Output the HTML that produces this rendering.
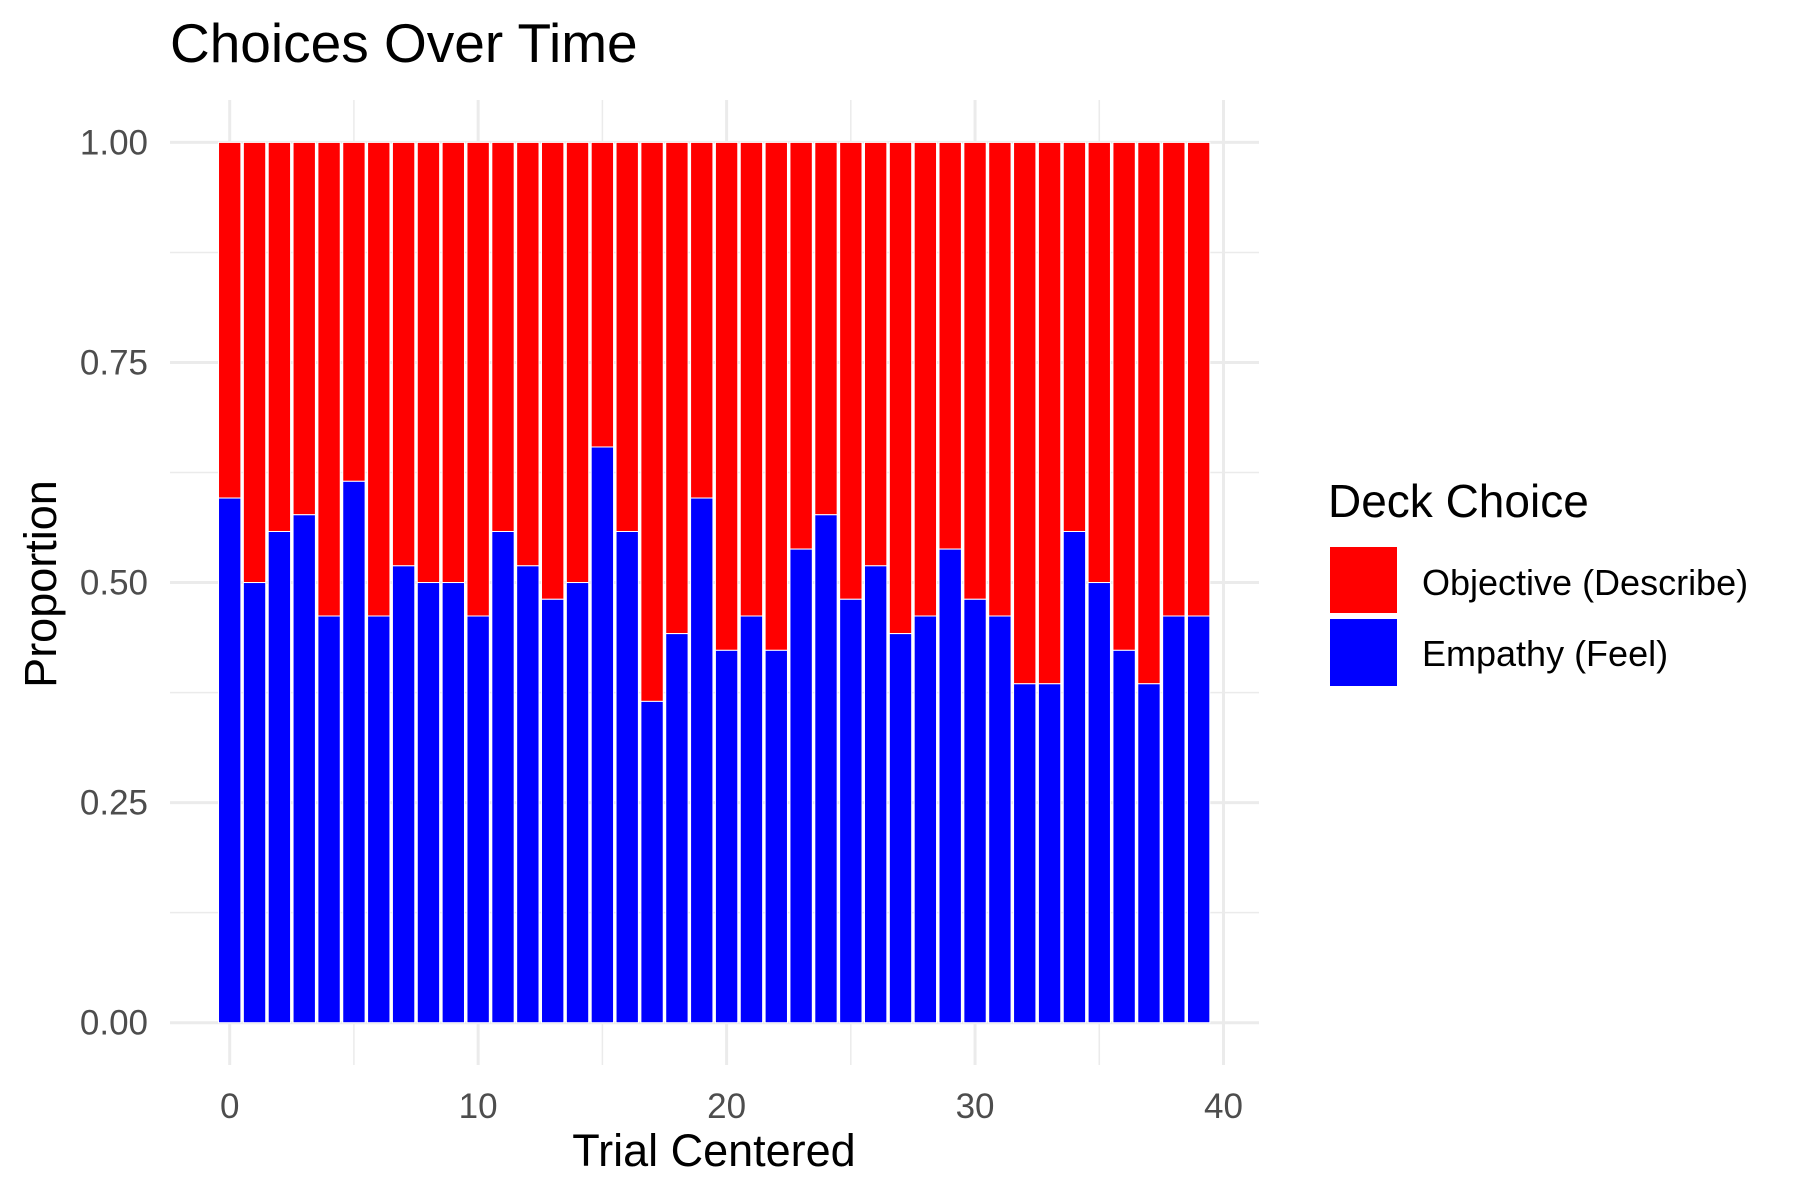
<!DOCTYPE html>
<html><head><meta charset="utf-8"><style>
html,body{margin:0;padding:0;background:#fff;}
svg{display:block;font-family:"Liberation Sans",sans-serif;}
</style></head><body>
<svg id="chart" width="1800" height="1200" viewBox="0 0 1800 1200">
<rect width="1800" height="1200" fill="#fff"/>
<g id="grid"></g>
<g id="bars"></g>
<g id="axes"></g>
<text x="170" y="62" font-size="55" fill="#000">Choices Over Time</text>
<text x="714" y="1166" font-size="45" text-anchor="middle" fill="#000">Trial Centered</text>
<text transform="translate(56,584) rotate(-90)" font-size="45" text-anchor="middle" fill="#000">Proportion</text>
<g>
<text x="1328" y="517" font-size="46" fill="#000">Deck Choice</text>
<rect x="1330" y="547" width="67" height="66" fill="#ff0000"/>
<rect x="1330" y="619" width="67" height="67" fill="#0000ff"/>
<text x="1422" y="595" font-size="36" fill="#000">Objective (Describe)</text>
<text x="1422" y="666" font-size="36" fill="#000">Empathy (Feel)</text>
</g>
</svg>
<script>
const trials = [];
for (let i = 0; i < 40; i++) trials.push(i);
const empathy = [0.596,0.5,0.558,0.577,0.462,0.615,0.462,0.519,0.5,0.5,0.462,0.558,0.519,0.481,0.5,0.654,0.558,0.365,0.442,0.596,0.423,0.462,0.423,0.538,0.577,0.481,0.519,0.442,0.462,0.538,0.481,0.462,0.385,0.385,0.558,0.5,0.423,0.385,0.462,0.462];
const xTicks = [0,10,20,30,40];
const yTicks = [0,0.25,0.5,0.75,1];
const yTickLabels = ["0.00","0.25","0.50","0.75","1.00"];

const NS = "http://www.w3.org/2000/svg";
const x = v => 229.7 + (v) * (1223.5 - 229.7) / 40;
const y = v => 1022.7 - v * (1022.7 - 142.4);
function mk(tag, attrs, parent) {
  const e = document.createElementNS(NS, tag);
  for (const k in attrs) e.setAttribute(k, attrs[k]);
  parent.appendChild(e);
  return e;
}
const grid = document.getElementById('grid');
const bars = document.getElementById('bars');
const axes = document.getElementById('axes');
const PL = 170, PR = 1259, PT = 100, PB = 1065;
for (let i = 0; i < yTicks.length - 1; i++) {
  const yv = (yTicks[i] + yTicks[i+1]) / 2;
  const l = mk('line', {x1: PL, x2: PR, y1: y(yv), y2: y(yv), stroke: '#ebebeb', 'stroke-width': 1.5}, grid);
  
  
}
for (let i = 0; i < xTicks.length - 1; i++) {
  const xv = (xTicks[i] + xTicks[i+1]) / 2;
  const l = mk('line', {x1: x(xv), x2: x(xv), y1: PT, y2: PB, stroke: '#ebebeb', 'stroke-width': 1.5}, grid);
  
  
}
yTicks.forEach((t, i) => {
  const l = mk('line', {x1: PL, x2: PR, y1: y(t), y2: y(t), stroke: '#ebebeb', 'stroke-width': 3}, grid);
  
  
  const tx = mk('text', {x: 148, y: y(t) + 12, 'font-size': 35, fill: '#4d4d4d', 'text-anchor': 'end'}, axes);
  tx.textContent = yTickLabels[i];
  
  
});
xTicks.forEach(t => {
  const l = mk('line', {x1: x(t), x2: x(t), y1: PT, y2: PB, stroke: '#ebebeb', 'stroke-width': 3}, grid);
  
  
  const tx = mk('text', {x: x(t), y: 1118, 'font-size': 35, fill: '#4d4d4d', 'text-anchor': 'middle'}, axes);
  tx.textContent = String(t);
  
  
});
trials.forEach((t, i) => {
  const x0 = x(t - 0.45), w = x(t + 0.45) - x0;
  const e = empathy[i];
  const r = mk('rect', {x: x0, y: y(1), width: w, height: y(e) - y(1), fill: '#ff0000', stroke: '#fff', 'stroke-width': 1}, bars);
  
  
  const b = mk('rect', {x: x0, y: y(e), width: w, height: y(0) - y(e), fill: '#0000ff', stroke: '#fff', 'stroke-width': 1}, bars);
  
  
});
</script>
</body></html>
